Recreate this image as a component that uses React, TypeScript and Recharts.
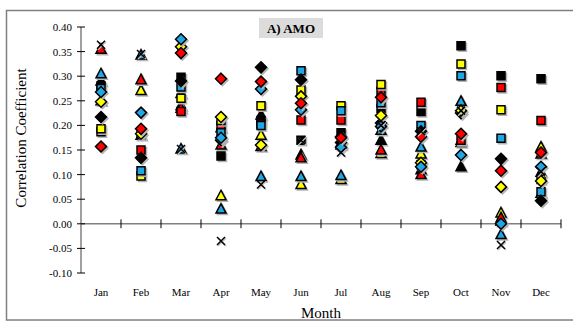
import {
  ReferenceLine,
  Scatter,
  ScatterChart,
  XAxis,
  YAxis,
} from 'recharts'

const months = ['Jan', 'Feb', 'Mar', 'Apr', 'May', 'Jun', 'Jul', 'Aug', 'Sep', 'Oct', 'Nov', 'Dec']
const yTicks = [-0.1, -0.05, 0, 0.05, 0.1, 0.15, 0.2, 0.25, 0.3, 0.35, 0.4]

// squares
const sqBlack = [0.28, 0.181, 0.298, 0.138, 0.21, 0.17, 0.185, 0.235, 0.228, 0.362, 0.301, 0.295]
const sqYellow = [0.193, 0.097, 0.255, 0.21, 0.24, 0.272, 0.24, 0.283, 0.12, 0.325, 0.232, 0.09]
const sqBlue = [0.275, 0.108, 0.278, 0.185, 0.2, 0.311, 0.23, 0.246, 0.2, 0.301, 0.174, 0.065]
const sqRed = [0.187, 0.15, 0.228, 0.2, 0.203, 0.211, 0.211, 0.269, 0.247, 0.17, 0.277, 0.21]
// diamonds
const dmBlack = [0.217, 0.134, 0.29, 0.17, 0.318, 0.293, 0.165, 0.205, 0.188, 0.225, 0.132, 0.047]
const dmYellow = [0.248, 0.183, 0.36, 0.217, 0.16, 0.259, 0.177, 0.22, 0.124, 0.23, 0.075, 0.087]
const dmBlue = [0.268, 0.226, 0.375, 0.175, 0.274, 0.232, 0.155, 0.198, 0.116, 0.14, 0.0, 0.116]
const dmRed = [0.157, 0.193, 0.347, 0.295, 0.289, 0.245, 0.175, 0.257, 0.177, 0.183, 0.108, 0.145]
// triangles
const trBlack = [0.29, 0.18, 0.265, 0.195, 0.221, 0.14, 0.16, 0.17, 0.11, 0.116, 0.005, 0.105]
const trYellow = [0.25, 0.271, 0.24, 0.057, 0.18, 0.08, 0.09, 0.143, 0.142, 0.165, 0.022, 0.156]
const trBlue = [0.305, 0.343, 0.152, 0.03, 0.096, 0.096, 0.098, 0.19, 0.156, 0.249, -0.022, 0.062]
const trRed = [0.355, 0.293, 0.235, 0.16, 0.157, 0.134, 0.165, 0.15, 0.1, 0.17, 0.012, 0.142]
// crosses
const xBlack = [0.364, 0.345, 0.152, -0.035, 0.08, 0.17, 0.145, 0.2, 0.188, 0.23, -0.043, 0.106]

const BLACK = '#000000'
const YELLOW = '#ffff00'
const BLUE = '#1ea7e4'
const RED = '#ff0000'
const FONT = '"Liberation Serif", "Times New Roman", serif'

type Kind = 'square' | 'diamond' | 'triangle' | 'cross'

const seriesList: { name: string; kind: Kind; fill: string; values: number[] }[] = [
  { name: 'trBlack', kind: 'triangle', fill: BLACK, values: trBlack },
  { name: 'trYellow', kind: 'triangle', fill: YELLOW, values: trYellow },
  { name: 'trBlue', kind: 'triangle', fill: BLUE, values: trBlue },
  { name: 'trRed', kind: 'triangle', fill: RED, values: trRed },
  { name: 'sqBlack', kind: 'square', fill: BLACK, values: sqBlack },
  { name: 'sqRed', kind: 'square', fill: RED, values: sqRed },
  { name: 'sqYellow', kind: 'square', fill: YELLOW, values: sqYellow },
  { name: 'sqBlue', kind: 'square', fill: BLUE, values: sqBlue },
  { name: 'dmBlack', kind: 'diamond', fill: BLACK, values: dmBlack },
  { name: 'dmYellow', kind: 'diamond', fill: YELLOW, values: dmYellow },
  { name: 'dmBlue', kind: 'diamond', fill: BLUE, values: dmBlue },
  { name: 'dmRed', kind: 'diamond', fill: RED, values: dmRed },
  { name: 'xBlack', kind: 'cross', fill: BLACK, values: xBlack },
]

function toPoints(values: number[]) {
  return values.map((y, i) => ({ x: i + 0.5, y }))
}

function markerPath(kind: Kind, cx: number, cy: number) {
  switch (kind) {
    case 'square':
      return `M${cx - 4},${cy - 4}h8v8h-8Z`
    case 'diamond':
      return `M${cx},${cy - 5.5}L${cx + 5.5},${cy}L${cx},${cy + 5.5}L${cx - 5.5},${cy}Z`
    case 'triangle':
      return `M${cx},${cy - 5.5}L${cx + 5},${cy + 4}L${cx - 5},${cy + 4}Z`
    default:
      return `M${cx - 4},${cy - 4}L${cx + 4},${cy + 4}M${cx + 4},${cy - 4}L${cx - 4},${cy + 4}`
  }
}

function makeShape(kind: Kind, fill: string) {
  return (props: any) => {
    const { cx, cy } = props
    if (cx == null || cy == null) return <g />
    const d = markerPath(kind, cx, cy)
    if (kind === 'cross') {
      return (
        <g>
          <path d={markerPath(kind, cx + 1, cy + 1)} stroke="#c0c0c0" strokeWidth={1.5} fill="none" />
          <path d={d} stroke={BLACK} strokeWidth={1.5} fill="none" />
        </g>
      )
    }
    return (
      <g>
        <path d={markerPath(kind, cx + 1.5, cy + 1.5)} fill="#b4b4b4" stroke="#b4b4b4" strokeWidth={1.5} />
        <path d={d} fill={fill} stroke={BLACK} strokeWidth={1.5} strokeLinejoin="miter" />
      </g>
    )
  }
}

function YTick(props: any) {
  const { x, y, payload } = props
  return (
    <g>
      <line x1={x - 4} x2={x + 4} y1={y} y2={y} stroke="#000" strokeWidth={1} />
      <text x={x - 9} y={y} dy={4} textAnchor="end" fontSize={11} fontFamily={FONT} fill="#000">
        {Number(payload.value).toFixed(2)}
      </text>
    </g>
  )
}

function XTick(props: any) {
  const { x, y, payload } = props
  return (
    <text x={x} y={y + 23} textAnchor="middle" fontSize={11} fontFamily={FONT} fill="#000">
      {months[Math.round(payload.value - 0.5)]}
    </text>
  )
}

const boundaryTicks = [1, 2, 3, 4, 5, 6, 7, 8, 9, 10, 11, 12]

export default function App() {
  return (
    <div style={{ position: 'absolute', left: 0, top: 0, width: 573, height: 322, background: '#fff' }}>
      <ScatterChart width={573} height={322} margin={{ top: 27, right: 12, bottom: 19, left: 0 }}>
        <XAxis
          type="number"
          dataKey="x"
          domain={[0, 12]}
          ticks={months.map((_, i) => i + 0.5)}
          tick={<XTick />}
          axisLine={false}
          tickLine={false}
          tickSize={0}
          tickMargin={0}
          height={30}
          interval={0}
        />
        <YAxis
          type="number"
          dataKey="y"
          domain={[-0.1, 0.4]}
          ticks={yTicks}
          tick={<YTick />}
          axisLine={{ stroke: '#808080', strokeWidth: 1.5 }}
          tickLine={false}
          tickSize={0}
          tickMargin={0}
          width={81}
          interval={0}
        />
        <ReferenceLine y={0} stroke="#808080" strokeWidth={1.5} />
        {boundaryTicks.map((b) => (
          <ReferenceLine
            key={b}
            segment={[
              { x: b, y: -0.009 },
              { x: b, y: 0.009 },
            ]}
            stroke="#000"
            strokeWidth={1}
          />
        ))}
        {seriesList.map((s) => (
          <Scatter
            key={s.name}
            name={s.name}
            data={toPoints(s.values)}
            shape={makeShape(s.kind, s.fill)}
            isAnimationActive={false}
          />
        ))}
      </ScatterChart>
      <svg
        width={573}
        height={322}
        style={{ position: 'absolute', left: 0, top: 0, pointerEvents: 'none' }}
      >
        <rect x={6.5} y={10.5} width={600} height={309.5} fill="none" stroke="#808080" strokeWidth={1.5} />
        <rect x={259} y={18} width={64} height={20} fill="#dcdcdc" />
        <text x={291} y={33} textAnchor="middle" fontSize={13} fontWeight="bold" fontFamily={FONT} fill="#000">
          A) AMO
        </text>
        <text
          x={0}
          y={0}
          transform="translate(26,138) rotate(-90)"
          textAnchor="middle"
          fontSize={15}
          fontFamily={FONT}
          fill="#000"
        >
          Correlation Coefficient
        </text>
        <text x={321} y={318} textAnchor="middle" fontSize={15} fontFamily={FONT} fill="#000">
          Month
        </text>
      </svg>
    </div>
  )
}
